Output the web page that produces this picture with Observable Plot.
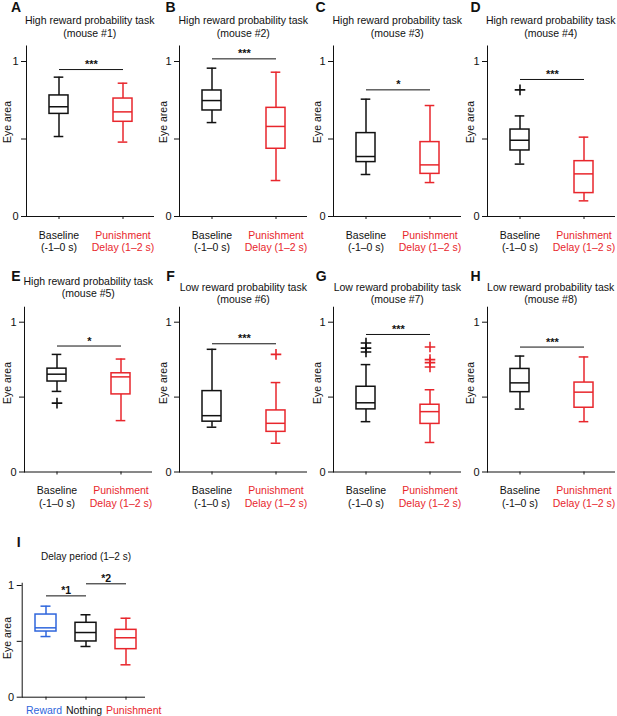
<!DOCTYPE html>
<html><head><meta charset="utf-8">
<script src="https://cdn.jsdelivr.net/npm/d3@7"></script>
<script src="https://cdn.jsdelivr.net/npm/@observablehq/plot@0.6"></script>
<style>
body{margin:0;background:#fff;font-family:"Liberation Sans",Arial,sans-serif;color:#000;}
#root{position:relative;width:617px;height:716px;overflow:hidden;}
.abs{position:absolute;white-space:nowrap;line-height:1;}
svg{position:absolute;overflow:visible;}
</style></head><body><div id="root"></div>
<script>
// ---------- data ----------
const panelLetters = ["A","B","C","D","E","F","G","H"];
const panelTitles = ["High reward probability task","High reward probability task","High reward probability task","High reward probability task","High reward probability task","Low reward probability task","Low reward probability task","Low reward probability task"];
const mouseLabels = ["(mouse #1)","(mouse #2)","(mouse #3)","(mouse #4)","(mouse #5)","(mouse #6)","(mouse #7)","(mouse #8)"];
const conditions = ["Baseline","Punishment"];
const conditionLabels = ["Baseline\n(-1–0 s)","Punishment\nDelay (1–2 s)"];
// [lower whisker, Q1, median, Q3, upper whisker]
const baselineStats = [
  [0.516,0.662,0.708,0.781,0.899],
  [0.606,0.684,0.748,0.813,0.957],
  [0.271,0.351,0.387,0.538,0.757],
  [0.338,0.426,0.492,0.561,0.649],
  [0.538,0.604,0.653,0.690,0.785],
  [0.299,0.336,0.376,0.540,0.819],
  [0.336,0.418,0.462,0.569,0.717],
  [0.420,0.533,0.595,0.688,0.774]
];
const punishmentStats = [
  [0.480,0.611,0.675,0.761,0.860],
  [0.232,0.437,0.581,0.701,0.931],
  [0.219,0.275,0.333,0.480,0.716],
  [0.101,0.151,0.275,0.357,0.512],
  [0.343,0.518,0.635,0.659,0.754],
  [0.192,0.268,0.325,0.411,0.597],
  [0.197,0.321,0.403,0.449,0.549],
  [0.336,0.429,0.533,0.597,0.768]
];
const baselineOutliers = [[],[],[],[0.817],[0.460],[],[0.861,0.827,0.801],[]];
const punishmentOutliers = [[],[],[],[],[],[0.785],[0.834,0.750,0.730,0.701],[]];
const sigLevels = [0.948,1.017,0.817,0.884,0.841,0.856,0.918,0.834];
const sigLabels = ["***","***","*","***","*","***","***","***"];

const delayTitle = "Delay period (1–2 s)";
const delayGroups = ["Reward","Nothing","Punishment"];
const delayStats = [
  [0.543,0.588,0.621,0.740,0.815],
  [0.454,0.499,0.579,0.666,0.738],
  [0.290,0.430,0.532,0.603,0.707]
];
const delaySigFrom = ["Reward","Nothing"];
const delaySigTo = ["Nothing","Punishment"];
const delaySigLevels = [0.907,1.015];
const delaySigLabels = ["*1","*2"];
const yTicks = [0, 0.5, 1];
const yAxisLabel = "Eye area";

// ---------- styling / layout ----------
const BLACK = "#111", RED = "#e8262c", BLUE = "#2f66dc";
const condColors = [BLACK, RED];
const delayColors = [BLUE, BLACK, RED];
const FONT = "'Liberation Sans', Arial, sans-serif";
const root = document.getElementById("root");

function addText(txt, cx, cy, {size = 10.5, color = BLACK, weight = "normal", rotate = false} = {}) {
  const d = document.createElement("div");
  d.className = "abs";
  d.textContent = txt;
  d.style.left = cx + "px";
  d.style.top = cy + "px";
  d.style.fontSize = size + "px";
  d.style.color = color;
  d.style.fontWeight = weight;
  d.style.transform = "translate(-50%,-50%)" + (rotate ? " rotate(-90deg)" : "");
  root.appendChild(d);
}

function boxPanel(cfg) {
  const {groups, labels, colors, stats, outliers, sigs, left, top, marginLeft, frameW,
         marginTop, frameH, marginBottom, yMax, padInner, padOuter, align, capInset, labelDy, sigSize,
         labelAnchor = "middle", labelDx = 0} = cfg;
  const boxes = groups.map((g, i) => ({group: g, lo: stats[i][0], q1: stats[i][1], med: stats[i][2],
    q3: stats[i][3], hi: stats[i][4], color: colors[i], label: labels[i]}));
  const outl = groups.flatMap((g, i) => outliers[i].map(v => ({group: g, v, color: colors[i]})));
  const n = groups.length;
  const step = frameW / (n - padInner + 2 * padOuter);
  const chart = Plot.plot({
    width: marginLeft + frameW,
    height: marginTop + frameH + marginBottom,
    marginLeft, marginRight: 0, marginTop, marginBottom,
    style: {fontSize: "11px", fontFamily: FONT, background: "transparent", overflow: "visible", color: BLACK},
    x: {type: "band", domain: groups, paddingInner: padInner, paddingOuter: padOuter, align,
        tickSize: 3, tickFormat: () => "", label: null},
    y: {domain: [0, yMax], ticks: yTicks, tickFormat: d => d === 0.5 ? "" : String(d),
        tickSize: 5, tickPadding: 3, line: true, label: null},
    color: {type: "identity"},
    marks: [
      Plot.ruleY([0], {stroke: BLACK, strokeWidth: 1}),
      Plot.ruleX(boxes, {x: "group", y1: "lo", y2: "q1", stroke: "color", strokeWidth: 1.5}),
      Plot.ruleX(boxes, {x: "group", y1: "q3", y2: "hi", stroke: "color", strokeWidth: 1.5}),
      Plot.tickY(boxes, {x: "group", y: "lo", stroke: "color", strokeWidth: 1.5, insetLeft: capInset, insetRight: capInset}),
      Plot.tickY(boxes, {x: "group", y: "hi", stroke: "color", strokeWidth: 1.5, insetLeft: capInset, insetRight: capInset}),
      Plot.barY(boxes, {x: "group", y1: "q1", y2: "q3", fill: "none", stroke: "color", strokeWidth: 1.5}),
      Plot.tickY(boxes, {x: "group", y: "med", stroke: "color", strokeWidth: 1.5}),
      Plot.dot(outl, {x: "group", y: "v", symbol: "plus", r: 3.5, stroke: "color", strokeWidth: 1.6}),
      Plot.link(sigs, {x1: "from", x2: "to", y1: "y", y2: "y", stroke: BLACK, strokeWidth: 1}),
      Plot.text(sigs, {x: "from", y: "y", text: "label", dx: step / 2, dy: -1.5, lineAnchor: "bottom",
        fontSize: sigSize, fontWeight: "bold", fill: BLACK}),
      Plot.text(boxes, {x: "group", text: "label", fill: "color", frameAnchor: "bottom",
        textAnchor: labelAnchor, dx: labelDx,
        lineAnchor: "top", dy: labelDy, lineHeight: 1.19, fontSize: 10.5})
    ]
  });
  chart.style.left = left + "px";
  chart.style.top = top + "px";
  root.appendChild(chart);
}

// ---------- panels A–H ----------
const axisX = [25.7, 179.3, 333.3, 486.7, 24.3, 179.3, 333.3, 486.7];
const rows = [
  {svgTop: 40, zeroY: 216, unit: 155, letterY: 7, titleY: [20, 33.3], eyeY: 122, labelDy: 13.3},
  {svgTop: 300, zeroY: 471.5, unit: 149.8, letterY: 275.5, titleY: [287.3, 299.3], eyeY: 383, labelDy: 13.5}
];
const letterX = [16, 170.5, 320.5, 475.5, 15.8, 170.5, 321.3, 475.5];
const eyeX = [6.7, 162.7, 316.7, 470, 6.7, 163.3, 316.7, 470];
const FRAME_W = 128, ML = 26, YMAX = 1.1;

for (let p = 0; p < 8; p++) {
  const row = rows[p < 4 ? 0 : 1];
  const frameH = row.unit * YMAX;
  const marginTop = row.zeroY - frameH - row.svgTop;
  boxPanel({
    groups: conditions, labels: conditionLabels, colors: condColors,
    stats: [baselineStats[p], punishmentStats[p]],
    outliers: [baselineOutliers[p], punishmentOutliers[p]],
    sigs: [{from: conditions[0], to: conditions[1], y: sigLevels[p], label: sigLabels[p]}],
    left: axisX[p] - ML, top: row.svgTop, marginLeft: ML, frameW: FRAME_W,
    marginTop, frameH, marginBottom: 40, yMax: YMAX,
    padInner: 0.7, padOuter: 0.3375, align: 0.52, capInset: 4.7, labelDy: row.labelDy, sigSize: 11
  });
  const cx = axisX[p] + FRAME_W / 2;
  let ty = row.titleY;
  if (p === 4) ty = [281, 292.5];
  addText(panelTitles[p], cx, ty[0], {size: 10.5});
  addText(mouseLabels[p], cx, ty[1], {size: 10.5});
  addText(panelLetters[p], letterX[p], row.letterY, {size: 14, weight: "bold"});
  addText(yAxisLabel, eyeX[p], row.eyeY, {size: 10.5, rotate: true});
}

// ---------- panel I ----------
{
  const zeroY = 696.7, unit = 111.7, yMax = 1.02, svgTop = 575;
  const frameH = unit * yMax;
  boxPanel({
    groups: delayGroups, labels: delayGroups, colors: delayColors, stats: delayStats,
    outliers: [[], [], []],
    sigs: delaySigFrom.map((f, i) => ({from: f, to: delaySigTo[i], y: delaySigLevels[i], label: delaySigLabels[i]})),
    left: 0, top: svgTop, marginLeft: 21.7, frameW: 123.3,
    marginTop: zeroY - frameH - svgTop, frameH, marginBottom: 19.3, yMax,
    padInner: 0.479, padOuter: 0.27, align: 0.59, capInset: 5.5, labelDy: 8.3, sigSize: 10.5,
    labelAnchor: "start", labelDx: -20
  });
  addText("I", 18.7, 542, {size: 14, weight: "bold"});
  addText(delayTitle, 86, 556.7, {size: 10});
  addText(yAxisLabel, 6.5, 638, {size: 10.5, rotate: true});
}
</script></body></html>
